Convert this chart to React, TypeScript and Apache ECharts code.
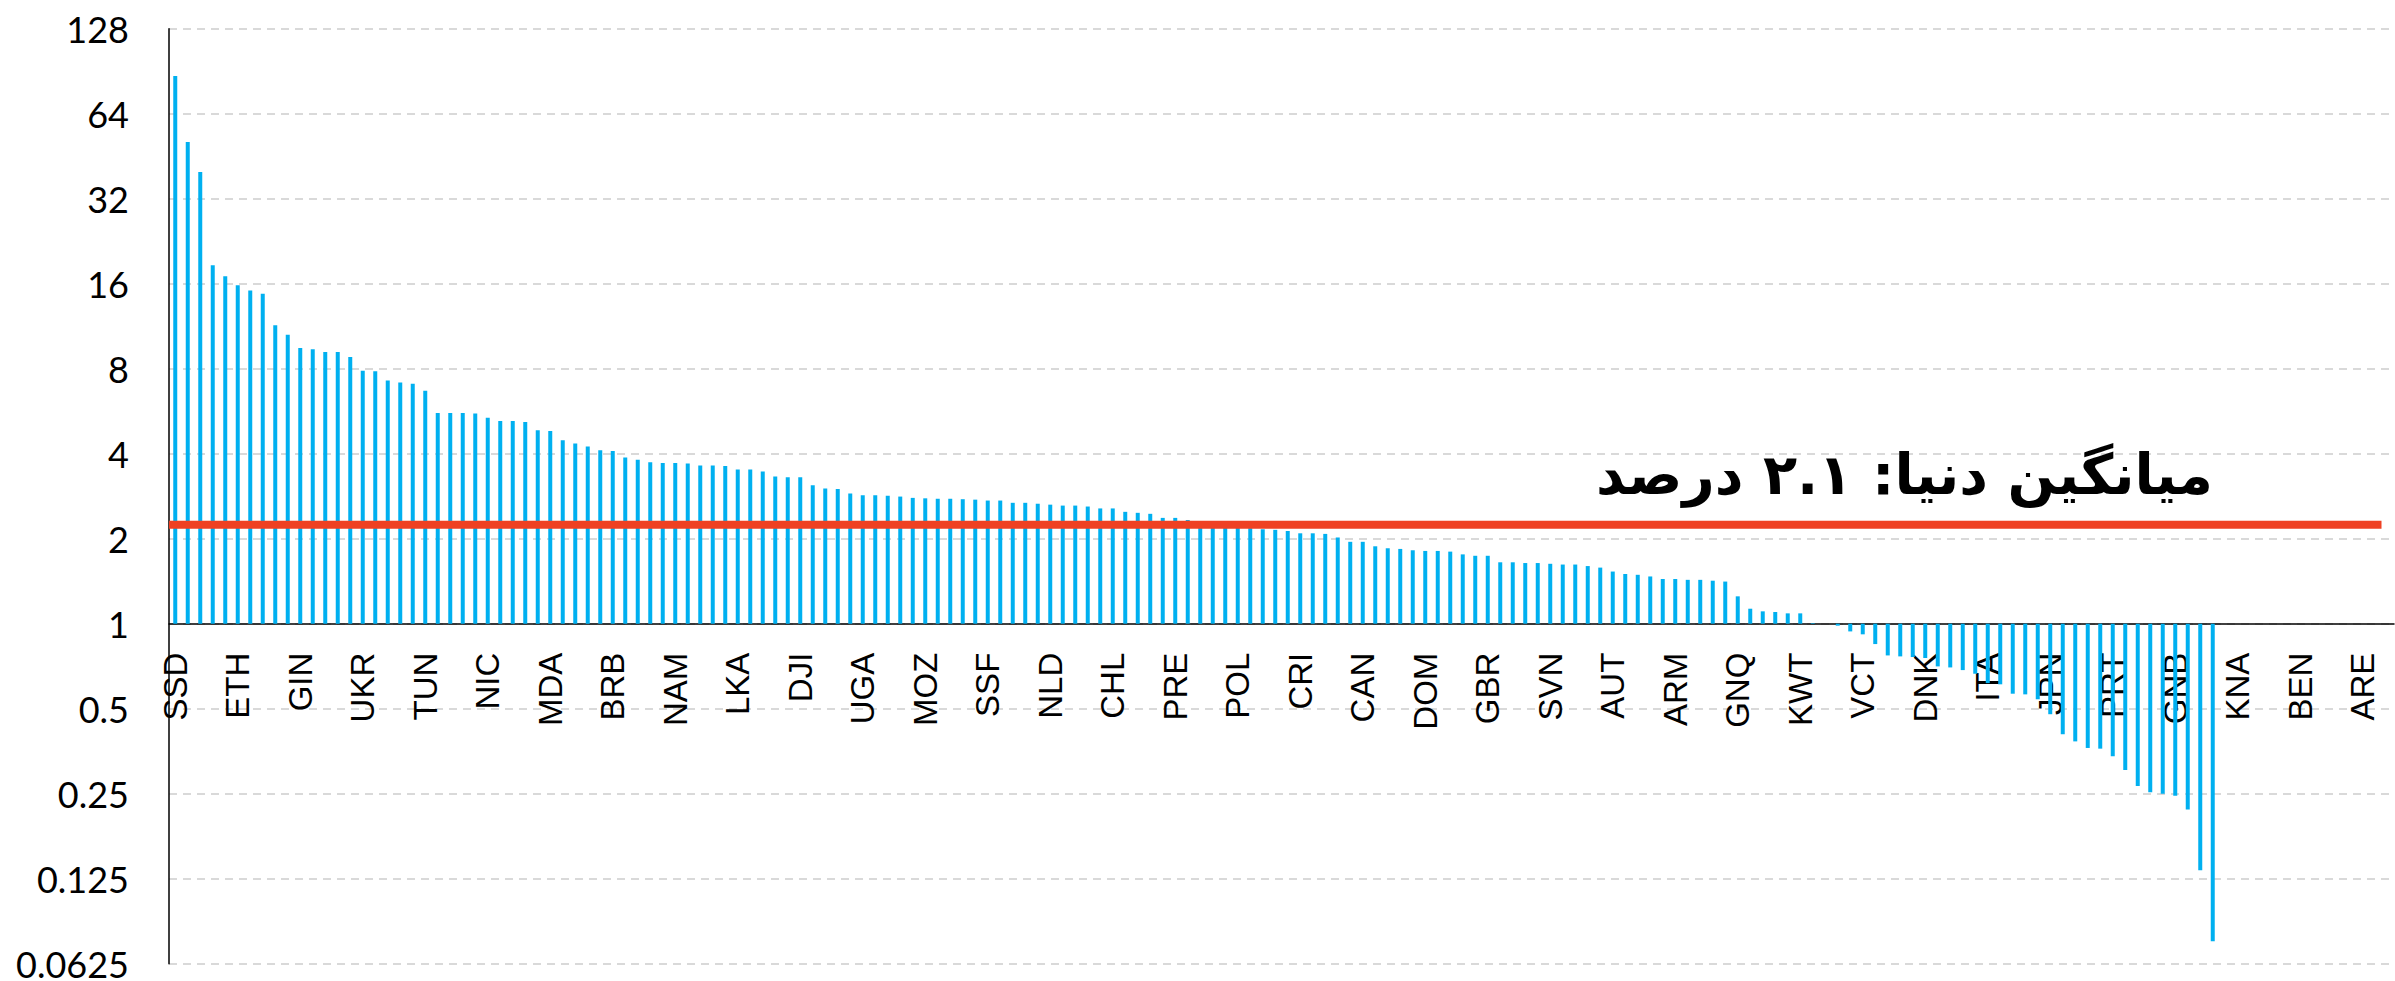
import React, { useEffect, useRef } from "react";
import * as echarts from "echarts";

// Tick labels shown on the category axis (every 5th country)
const tickLabels = [
  "SSD", "ETH", "GIN", "UKR", "TUN", "NIC", "MDA", "BRB", "NAM", "LKA",
  "DJI", "UGA", "MOZ", "SSF", "NLD", "CHL", "PRE", "POL", "CRI", "CAN",
  "DOM", "GBR", "SVN", "AUT", "ARM", "GNQ", "KWT", "VCT", "DNK", "ITA",
  "JPN", "PRT", "GNB", "KNA", "BEN", "ARE",
];

// Bar values (log2 axis crossing at 1)
const values: (number | null)[] = [
  87.0, 50.8, 39.8, 18.6, 17.0, 15.8, 15.15, 14.75, 11.4, 10.55,
  9.48, 9.37, 9.17, 9.17, 8.8, 7.87, 7.84, 7.27, 7.15, 7.07,
  6.68, 5.58, 5.57, 5.57, 5.55, 5.36, 5.22, 5.22, 5.18, 4.84,
  4.81, 4.46, 4.35, 4.24, 4.11, 4.09, 3.88, 3.81, 3.73, 3.71,
  3.71, 3.69, 3.63, 3.63, 3.62, 3.52, 3.52, 3.46, 3.32, 3.3,
  3.3, 3.09, 3.01, 3.0, 2.89, 2.85, 2.85, 2.84, 2.82, 2.79,
  2.78, 2.77, 2.77, 2.76, 2.75, 2.73, 2.73, 2.68, 2.68, 2.66,
  2.64, 2.62, 2.62, 2.6, 2.56, 2.56, 2.49, 2.47, 2.45, 2.37,
  2.37, 2.33, 2.29, 2.26, 2.23, 2.2, 2.18, 2.16, 2.15, 2.13,
  2.09, 2.09, 2.08, 2.02, 1.95, 1.95, 1.88, 1.85, 1.84, 1.82,
  1.81, 1.81, 1.8, 1.76, 1.74, 1.74, 1.65, 1.65, 1.64, 1.64,
  1.63, 1.62, 1.62, 1.6, 1.58, 1.53, 1.5, 1.49, 1.47, 1.44,
  1.44, 1.43, 1.43, 1.42, 1.41, 1.25, 1.13, 1.106, 1.1, 1.088,
  1.088, 1.005, 1.0, 0.984, 0.939, 0.917, 0.847, 0.772, 0.766, 0.762,
  0.756, 0.706, 0.7, 0.685, 0.665, 0.616, 0.61, 0.565, 0.562, 0.54,
  0.478, 0.406, 0.383, 0.363, 0.361, 0.339, 0.303, 0.266, 0.253, 0.25,
  0.246, 0.22, 0.134, 0.075, null, null, null, null, null, null,
  null, null, null, null, null, null, null, null,
];

const worldAverage = 2.24;
const averageLabel = "میانگین دنیا: ۲.۱ درصد";

// log2 extent of the value axis: 0.0625 .. 128
const yMinExp = -4;
const yMaxExp = 7;

export default function App() {
  const ref = useRef<HTMLDivElement>(null);

  useEffect(() => {
    if (!ref.current) return;
    const chart = echarts.init(ref.current, null, { renderer: "svg" });
    const categories = values.map((_, i) => String(i));
    const avgLog = Math.log2(worldAverage);
    const gridHeight = 935;
    // place the category axis line at value 1 (exponent 0)
    const axisOffset = -gridHeight * (0 - yMinExp) / (yMaxExp - yMinExp);

    chart.setOption({
      animation: false,
      backgroundColor: "#ffffff",
      grid: {
        left: 169,
        top: 28.7,
        width: 2225,
        height: gridHeight,
        containLabel: false,
        outerBoundsMode: "none",
      },
      xAxis: [
        {
          type: "category",
          data: categories,
          boundaryGap: true,
          position: "bottom",
          offset: axisOffset,
          axisLine: { show: true, onZero: false, lineStyle: { color: "#000000", width: 1.5 } },
          axisTick: { show: false },
          axisLabel: {
            interval: 0,
            rotate: 90,
            margin: 29,
            fontSize: 33,
            fontFamily: "Liberation Sans",
            color: "#000000",
            hideOverlap: false,
            formatter: (_v: string, i: number) => (i % 5 === 0 ? tickLabels[i / 5] ?? "" : ""),
          },
          splitLine: { show: false },
        },
        { type: "value", min: 0, max: values.length, show: false },
      ],
      yAxis: {
        type: "value",
        min: yMinExp,
        max: yMaxExp,
        interval: 1,
        axisLine: { show: true, onZero: false, lineStyle: { color: "#000000", width: 1.5 } },
        axisTick: { show: false },
        axisLabel: {
          margin: 40,
          fontSize: 36,
          lineHeight: 32,
          fontFamily: "Lato",
          color: "#000000",
          formatter: (v: number) => String(Math.pow(2, Math.round(v))),
        },
        splitLine: { show: true, lineStyle: { color: "#D9D9D9", width: 2, type: [8, 6] } },
      },
      series: [
        {
          type: "bar",
          xAxisIndex: 0,
          yAxisIndex: 0,
          data: values.map((v) => (v == null ? null : Math.log2(v))),
          barWidth: 4,
          itemStyle: { color: "#00B0F0" },
          z: 2,
        },
        {
          type: "line",
          xAxisIndex: 1,
          yAxisIndex: 0,
          data: [
            [0, avgLog],
            [values.length - 1, avgLog],
          ],
          symbol: "none",
          lineStyle: { color: "#EF4123", width: 8 },
          z: 3,
        },
      ],
      graphic: [
        {
          type: "text",
          x: 2213,
          y: 474,
          z: 10,
          style: {
            text: averageLabel,
            fontSize: 56,
            fontWeight: "bold",
            fontFamily: "DejaVu Sans",
            fill: "#000000",
            align: "right",
            verticalAlign: "middle",
          },
        },
      ],
    });

    return () => chart.dispose();
  }, []);

  return (
    <div
      ref={ref}
      style={{ position: "absolute", left: 0, top: 0, width: 2395, height: 981 }}
    />
  );
}
